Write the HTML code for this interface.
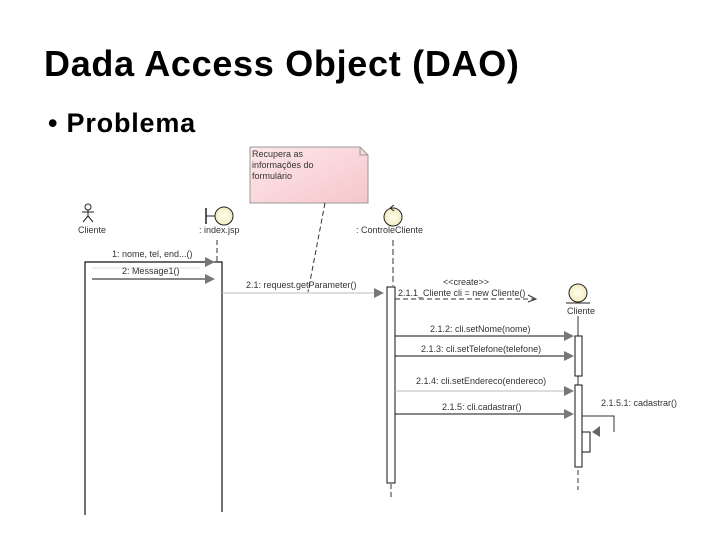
<!DOCTYPE html>
<html><head><meta charset="utf-8"><style>
body{margin:0;width:720px;height:540px;background:#fff;overflow:hidden;position:relative;font-family:"Liberation Sans",sans-serif}
.t{position:absolute;left:44px;top:43px;font-size:36px;font-weight:bold;color:#000;letter-spacing:0.7px}
.b{position:absolute;left:48px;top:108px;font-size:27px;font-weight:bold;letter-spacing:0.8px}
svg{position:absolute;left:0;top:0}
svg text{font-family:"Liberation Sans",sans-serif;font-size:9px;fill:#333}
</style></head><body>
<div class="t">Dada Access Object (DAO)</div>
<div class="b">• Problema</div>
<svg width="720" height="540">
<defs><linearGradient id="ng" x1="0" y1="0" x2="1" y2="1"><stop offset="0" stop-color="#fde8ea"/><stop offset="1" stop-color="#f6c6cb"/></linearGradient>
<radialGradient id="cg"><stop offset="0" stop-color="#fffff0"/><stop offset="1" stop-color="#f3ecc0"/></radialGradient>
<marker id="a" markerWidth="10" markerHeight="10" refX="9" refY="5" orient="auto"><path d="M0,0 L10,5 L0,10z" fill="#777"/></marker></defs>
<path d="M250,147 H360 L368,155 V203 H250Z" fill="url(#ng)" stroke="#999"/>
<path d="M360,147 V155 H368" fill="none" stroke="#999"/>
<text x="252" y="157">Recupera as</text><text x="252" y="168">informações do</text><text x="252" y="179">formulário</text>
<line x1="325" y1="203" x2="308" y2="292" stroke="#333" stroke-dasharray="5,3"/>
<circle cx="88" cy="207" r="3" fill="none" stroke="#222"/>
<path d="M88,210 V216 M82,212 H94 M88,216 L83,222 M88,216 L93,222" stroke="#222" fill="none"/>
<text x="78" y="233">Cliente</text>
<line x1="206" y1="208" x2="206" y2="224" stroke="#222" stroke-width="1.5"/><line x1="206" y1="216" x2="215" y2="216" stroke="#222"/>
<circle cx="224" cy="216" r="9" fill="url(#cg)" stroke="#222"/>
<text x="199" y="233">: index.jsp</text>
<line x1="217" y1="240" x2="217" y2="262" stroke="#333" stroke-dasharray="5,3"/>
<path d="M85,515 V262 H222 V512" fill="none" stroke="#111" stroke-width="1.2"/>
<line x1="85" y1="262" x2="214" y2="262" stroke="#111" marker-end="url(#a)"/>
<text x="112" y="257">1: nome, tel, end...()</text>
<line x1="92" y1="279" x2="214" y2="279" stroke="#111" marker-end="url(#a)"/>
<line x1="92" y1="268" x2="200" y2="268" stroke="#ddd"/>
<text x="122" y="274">2: Message1()</text>
<circle cx="393" cy="217" r="9" fill="url(#cg)" stroke="#222"/>
<path d="M390,208 L394,205 M390,208 L394,211" stroke="#222" fill="none"/>
<text x="356" y="233">: ControleCliente</text>
<line x1="393" y1="240" x2="393" y2="286" stroke="#333" stroke-dasharray="6,3"/>
<line x1="222" y1="293" x2="383" y2="293" stroke="#bbb" marker-end="url(#a)"/>
<text x="246" y="288">2.1: request.getParameter()</text>
<rect x="387" y="287" width="8" height="196" fill="#fff" stroke="#111"/>
<line x1="391" y1="484" x2="391" y2="500" stroke="#333" stroke-dasharray="5,3"/>
<text x="443" y="285" font-size="8">&lt;&lt;create&gt;&gt;</text>
<text x="398" y="296">2.1.1_Cliente cli = new Cliente()</text>
<line x1="395" y1="299" x2="534" y2="299" stroke="#333" stroke-dasharray="5,3"/>
<path d="M528,295 L536,299 L528,302" fill="none" stroke="#333"/>
<circle cx="578" cy="293" r="9" fill="url(#cg)" stroke="#222"/>
<line x1="566" y1="303" x2="590" y2="303" stroke="#222"/>
<text x="567" y="314">Cliente</text>
<line x1="578" y1="316" x2="578" y2="336" stroke="#333"/>
<line x1="578" y1="375" x2="578" y2="385" stroke="#333"/>
<rect x="575" y="336" width="7" height="40" fill="#fff" stroke="#111"/>
<rect x="575" y="385" width="7" height="82" fill="#fff" stroke="#111"/>
<line x1="578" y1="470" x2="578" y2="490" stroke="#333" stroke-dasharray="5,3"/>
<line x1="395" y1="336" x2="573" y2="336" stroke="#111" marker-end="url(#a)"/>
<text x="430" y="332">2.1.2: cli.setNome(nome)</text>
<line x1="395" y1="356" x2="573" y2="356" stroke="#111" marker-end="url(#a)"/>
<text x="421" y="352">2.1.3: cli.setTelefone(telefone)</text>
<line x1="395" y1="391" x2="573" y2="391" stroke="#bbb" marker-end="url(#a)"/>
<text x="416" y="384">2.1.4: cli.setEndereco(endereco)</text>
<line x1="395" y1="414" x2="573" y2="414" stroke="#111" marker-end="url(#a)"/>
<text x="442" y="410">2.1.5: cli.cadastrar()</text>
<path d="M582,416 H614 V432" fill="none" stroke="#333"/>
<rect x="582" y="432" width="8" height="20" fill="#fff" stroke="#111"/>
<path d="M600,426 L592,432 L600,437z" fill="#666"/>
<text x="601" y="406">2.1.5.1: cadastrar()</text>
</svg>
</body></html>
